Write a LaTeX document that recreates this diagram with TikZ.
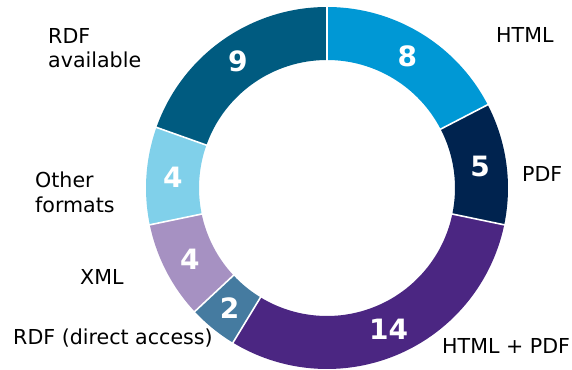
\documentclass[tikz,border=0pt]{standalone}
\usepackage{fontspec}
\setmainfont{DejaVu Sans}
\definecolor{cHTML}{HTML}{0098D5}
\definecolor{cPDF}{HTML}{00234F}
\definecolor{cBoth}{HTML}{4B2682}
\definecolor{cRDFd}{HTML}{457BA0}
\definecolor{cXML}{HTML}{A691C2}
\definecolor{cOther}{HTML}{80D0EA}
\definecolor{cRDFa}{HTML}{005B80}
\newcommand\ringseg[3]{\fill[#1] (#2:181pt) arc[start angle=#2, end angle=#3, radius=181pt] -- (#3:128pt) arc[start angle=#3, end angle=#2, radius=128pt] -- cycle;}
\begin{document}
\begin{tikzpicture}[x=1pt,y=1pt,
  lbl/.style={inner sep=0pt, font=\fontsize{20.6}{24.5}\selectfont, text=black},
  num/.style={inner sep=0pt, text=white, font=\bfseries\fontsize{28}{30}\selectfont},
  sep/.style={white, line width=1.6pt}]
\useasboundingbox (0,0) rectangle (572,369);
\begin{scope}[shift={(327pt,181pt)}]
  \ringseg{cHTML}{90}{27.391}
  \ringseg{cPDF}{27.391}{-11.739}
  \ringseg{cBoth}{-11.739}{-121.304}
  \ringseg{cRDFd}{-121.304}{-136.957}
  \ringseg{cXML}{-136.957}{-168.261}
  \ringseg{cOther}{-168.261}{-199.565}
  \ringseg{cRDFa}{-199.565}{-270}
  \foreach \a in {90,27.391,-11.739,-121.304,-136.957,-168.261,-199.565}
    \draw[sep] (\a:127pt) -- (\a:182pt);
  \node[num] (nHTML) at (58.696:154.5pt) {8};
  \node[num] (nPDF) at (7.826:154.5pt) {5};
  \node[num] (nBoth) at (-66.52:154.5pt) {14};
  \node[num] (nRDFd) at (-129.13:154.5pt) {2};
  \node[num] (nXML) at (-152.61:154.5pt) {4};
  \node[num] (nOther) at (-183.91:154.5pt) {4};
  \node[num] (nRDFa) at (-234.78:154.5pt) {9};
\end{scope}
\node[lbl, anchor=north west, align=left] (lRDFa) at (48,341) {RDF\\available};
\node[lbl, anchor=north west, align=left] (lOther) at (35,197) {Other\\formats};
\node[lbl, anchor=base west] (lHTML) at (496,326) {HTML};
\node[lbl, anchor=base west] (lPDF) at (522,187) {PDF};
\node[lbl, anchor=base west] (lBoth) at (442,16) {HTML + PDF};
\node[lbl, anchor=base west] (lXML) at (80,84) {XML};
\node[lbl, anchor=base west] (lRDFd) at (13,24) {RDF (direct access)};
\end{tikzpicture}
\end{document}
